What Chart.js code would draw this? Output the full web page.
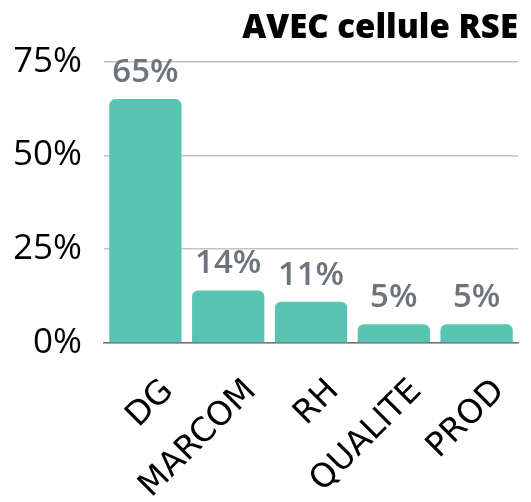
<!DOCTYPE html>
<html lang="fr">
<head>
  <meta charset="UTF-8">
  <title>AVEC cellule RSE</title>
  <script src="https://cdn.jsdelivr.net/npm/chart.js"></script>
  <style>
    html, body { margin: 0; padding: 0; background: #ffffff; }
    #wrap { width: 531px; height: 502px; }
  </style>
</head>
<body>
  <div id="wrap"><canvas id="chartRSE"></canvas></div>

  <script>
    const services = ['DG', 'MARCOM', 'RH', 'QUALITE', 'PROD'];
    const pourcentages = [65, 14, 11, 5, 5];
    const graduations = [0, 25, 50, 75];

    // étiquettes de valeur au-dessus des barres
    const etiquettesValeurs = {
      id: 'etiquettesValeurs',
      afterDatasetsDraw(chart) {
        const ctx = chart.ctx;
        const meta = chart.getDatasetMeta(0);
        ctx.save();
        ctx.font = '600 33px "Open Sans"';
        ctx.fillStyle = '#6c757d';
        ctx.textAlign = 'center';
        ctx.textBaseline = 'alphabetic';
        meta.data.forEach((bar, i) => {
          ctx.fillText(pourcentages[i] + '%', bar.x, bar.y - 17);
        });
        ctx.restore();
      }
    };

    new Chart(document.getElementById('chartRSE'), {
      type: 'bar',
      data: {
        labels: services,
        datasets: [{
          data: pourcentages,
          backgroundColor: '#57c5b2',
          borderRadius: { topLeft: 6, topRight: 6 },
          borderSkipped: 'bottom',
          categoryPercentage: 0.9,
          barPercentage: 0.97
        }]
      },
      options: {
        responsive: true,
        maintainAspectRatio: false,
        animation: false,
        layout: { padding: { left: 15, right: 13, top: 0, bottom: 0 } },
        plugins: {
          legend: { display: false },
          tooltip: { enabled: false },
          title: {
            display: true,
            text: 'AVEC cellule RSE',
            align: 'end',
            color: '#000',
            font: { family: '"Open Sans"', size: 33, weight: '800', lineHeight: 1.2 },
            padding: { top: 9, bottom: 13 }
          }
        },
        scales: {
          y: {
            min: 0,
            max: 75,
            afterBuildTicks(scale) {
              scale.ticks = graduations.map(v => ({ value: v }));
            },
            afterFit(scale) { scale.width = 89; },
            border: { display: false },
            grid: { color: '#c4c4c4', lineWidth: 1.5, drawTicks: false },
            ticks: {
              color: '#000',
              padding: 22,
              font: { family: '"Open Sans"', size: 35 },
              callback: v => v + '%'
            }
          },
          x: {
            afterFit(scale) { scale.height = 159; },
            border: { display: true, color: '#707070', width: 1.5 },
            grid: { display: false },
            ticks: {
              color: '#000',
              minRotation: 45,
              maxRotation: 45,
              padding: 21,
              labelOffset: 23,
              font: { family: '"DejaVu Sans"', size: 33 }
            }
          }
        }
      },
      plugins: [etiquettesValeurs]
    });
  </script>
</body>
</html>
